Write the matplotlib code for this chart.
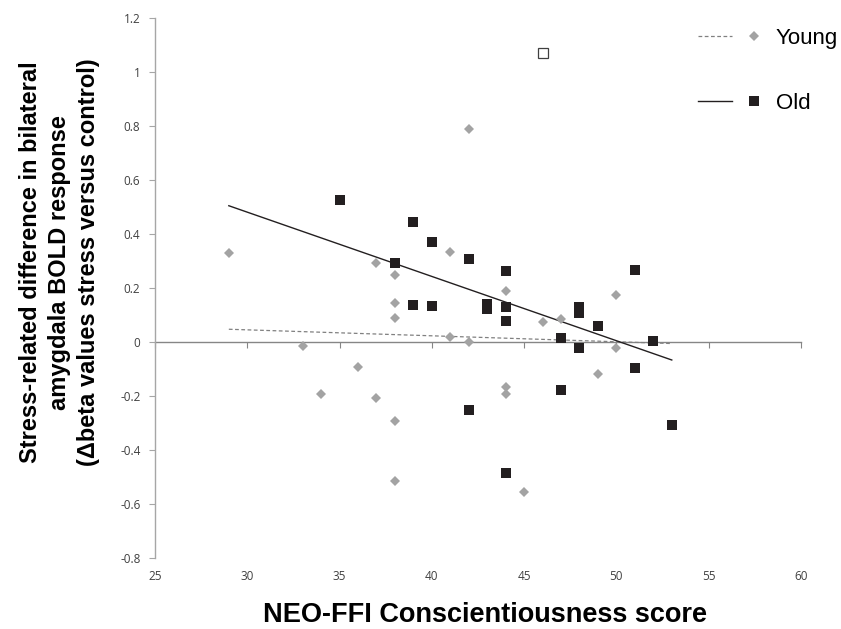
import matplotlib
matplotlib.use('Agg')
import matplotlib.pyplot as plt
from matplotlib.legend_handler import HandlerTuple
from matplotlib.lines import Line2D

# Data
young_x = [29, 33, 34, 36, 37, 37, 38, 38, 38, 38, 38, 41, 41, 42, 42,
           44, 44, 44, 45, 46, 47, 49, 50, 50]
young_y = [0.328, -0.016, -0.192, -0.093, 0.291, -0.208, 0.247, 0.145, 0.090,
           -0.295, -0.517, 0.334, 0.019, 0.79, 0.0, 0.189, -0.167, -0.192,
           -0.558, 0.074, 0.086, -0.119, 0.173, -0.023]

old_x = [35, 38, 39, 39, 40, 40, 42, 42, 43, 43, 44, 44, 44, 44,
         47, 47, 48, 48, 48, 49, 51, 51, 52, 53]
old_y = [0.526, 0.293, 0.446, 0.138, 0.370, 0.133, 0.309, -0.251, 0.140, 0.121,
         0.264, 0.128, 0.079, -0.485, 0.016, -0.177, 0.129, 0.107, -0.021,
         0.060, 0.268, -0.096, 0.004, -0.307]

outlier_x = [46]
outlier_y = [1.071]

# trend lines as drawn in the figure
trend_x = [29, 53]
young_trend = [0.047, -0.006]
old_trend = [0.505, -0.067]

fig = plt.figure(figsize=(8.41, 6.29), dpi=100)
ax = fig.add_axes([0.1843, 0.1134, 0.7681, 0.8575])

ax.plot(trend_x, young_trend, color='#808080', linestyle=(0, (3, 2)), linewidth=0.9, zorder=2)
ax.plot(trend_x, old_trend, color='#231f20', linewidth=1.0, zorder=2)
ax.plot(young_x, young_y, linestyle='none', marker='D', markersize=5.5,
        color='#a3a3a3', markeredgewidth=0, zorder=3)
ax.plot(old_x, old_y, linestyle='none', marker='s', markersize=7.5,
        color='#231f20', markeredgewidth=0, zorder=4)
ax.plot(outlier_x, outlier_y, linestyle='none', marker='s', markersize=7,
        markerfacecolor='white', markeredgecolor='#404040', markeredgewidth=0.9, zorder=4)

ax.set_xlim(25, 60)
ax.set_ylim(-0.8, 1.2)
ax.set_xticks(range(25, 61, 5))
ax.set_yticks([-0.8, -0.6, -0.4, -0.2, 0, 0.2, 0.4, 0.6, 0.8, 1, 1.2])
ax.set_yticklabels(['-0.8', '-0.6', '-0.4', '-0.2', '0', '0.2', '0.4', '0.6', '0.8', '1', '1.2'])

for s in ['top', 'right', 'bottom']:
    ax.spines[s].set_visible(False)
ax.spines['left'].set_color('#a6a6a6')
ax.spines['left'].set_linewidth(1.0)
ax.tick_params(axis='y', direction='out', length=4, color='#a6a6a6',
               labelsize=8.5, labelcolor='#404040', pad=6.5)
ax.tick_params(axis='x', length=0, labelsize=8.5, labelcolor='#404040', pad=9)
for lab in ax.get_xticklabels() + ax.get_yticklabels():
    lab.set_family('Open Sans')

# horizontal axis line crossing at y = 0
sec = ax.secondary_xaxis(0.4)
sec.set_xticks(range(25, 61, 5))
sec.tick_params(axis='x', direction='out', length=4, color='#868686', labelbottom=False)
sec.spines['bottom'].set_color('#868686')
sec.spines['bottom'].set_linewidth(1.0)

ax.set_xlabel('NEO-FFI Conscientiousness score', fontsize=19.5, fontweight='bold',
              family='Liberation Sans')
ax.xaxis.set_label_coords(0.5105, -0.0825)
ax.set_ylabel('Stress-related difference in bilateral\namygdala BOLD response\n'
              '(\u0394beta values stress versus control)', fontsize=17,
              fontweight='bold', family='Liberation Sans', linespacing=1.33)
ax.yaxis.set_label_coords(-0.0855, 0.548)

h_young = (Line2D([], [], color='#808080', linestyle=(0, (3, 2)), linewidth=0.9),
           Line2D([], [], linestyle='none', marker='D', markersize=5.5,
                  color='#a3a3a3', markeredgewidth=0))
h_old = (Line2D([], [], color='#231f20', linewidth=1.0),
         Line2D([], [], linestyle='none', marker='s', markersize=7.5,
                color='#231f20', markeredgewidth=0))
leg = fig.legend([h_young, h_old], ['Young', 'Old'],
                 handler_map={tuple: HandlerTuple(ndivide=2, pad=0.22)},
                 loc='upper left', bbox_to_anchor=(0.830, 0.956), frameon=False,
                 borderpad=0, borderaxespad=0,
                 handlelength=3.29, labelspacing=2.0, handletextpad=0.2,
                 prop={'family': 'Liberation Sans', 'size': 16})

fig.savefig('out.png', dpi=100)
